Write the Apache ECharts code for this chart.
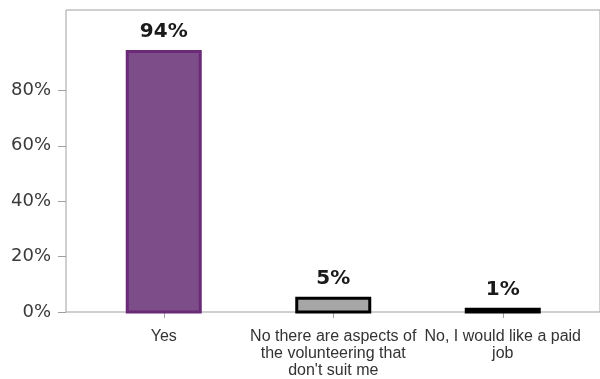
<!DOCTYPE html>
<html>
<head>
<meta charset="utf-8">
<script src="https://cdn.jsdelivr.net/npm/echarts@6/dist/echarts.min.js"></script>
<style>
html,body{margin:0;padding:0;background:#fff;}
#chart{width:600px;height:379px;}
</style>
</head>
<body>
<div id="chart"></div>
<script>
var categories = ['Yes', 'No there are aspects of\nthe volunteering that\ndon\'t suit me', 'No, I would like a paid\njob'];
var values = [94, 5, 1];
var valueLabels = ['94%', '5%', '1%'];
var yTickValues = [0, 20, 40, 60, 80];
var fillColors = ['#7c4d88', '#a6a6a6', '#000000'];
var borderColors = ['#6a2a78', '#000000', '#000000'];

var chart = echarts.init(document.getElementById('chart'), null, {renderer: 'canvas'});
var data = values.map(function (v, i) { return [i, v]; });

chart.setOption({
  animation: false,
  grid: [
    {left: 79, width: 508.5, top: 10, bottom: 67, containLabel: false},
    {left: 66, right: -3, top: 10, bottom: 67, show: true, borderColor: '#a0a0a0', borderWidth: 1, backgroundColor: 'transparent'}
  ],
  xAxis: [
    {
      type: 'category', gridIndex: 0, data: categories,
      axisLine: {show: false},
      axisTick: {show: true, alignWithLabel: true, length: 6, lineStyle: {color: '#a0a0a0'}},
      axisLabel: {color: '#333', fontFamily: 'Liberation Sans', fontSize: 16, lineHeight: 17, margin: 16, interval: 0}
    },
    {type: 'value', gridIndex: 1, show: false}
  ],
  yAxis: [
    {
      type: 'value', gridIndex: 0, min: 0, max: 109, offset: 13,
      splitLine: {show: false},
      axisLine: {show: false},
      axisTick: {show: true, length: 8, customValues: yTickValues, lineStyle: {color: '#a0a0a0'}},
      axisLabel: {customValues: yTickValues, formatter: '{value}%', color: '#3a3a3a', fontFamily: 'DejaVu Sans', fontSize: 18, margin: 15}
    },
    {type: 'value', gridIndex: 1, show: false, min: 0, max: 109}
  ],
  series: [{
    type: 'custom', xAxisIndex: 0, yAxisIndex: 0, data: data,
    encode: {x: 0, y: 1},
    renderItem: function (params, api) {
      var idx = params.dataIndex;
      var topPt = api.coord([api.value(0), api.value(1)]);
      var basePt = api.coord([api.value(0), 0]);
      var w = 73;
      return {
        type: 'rect',
        shape: {x: topPt[0] - w / 2, y: topPt[1], width: w, height: basePt[1] - topPt[1]},
        style: {fill: fillColors[idx], stroke: borderColors[idx], lineWidth: 3},
        textContent: {
          style: {text: valueLabels[idx], fill: '#1a1a1a', fontFamily: 'DejaVu Sans', fontWeight: 'bold', fontSize: 20}
        },
        textConfig: {position: 'top', distance: 8}
      };
    }
  }]
});
</script>
</body>
</html>
